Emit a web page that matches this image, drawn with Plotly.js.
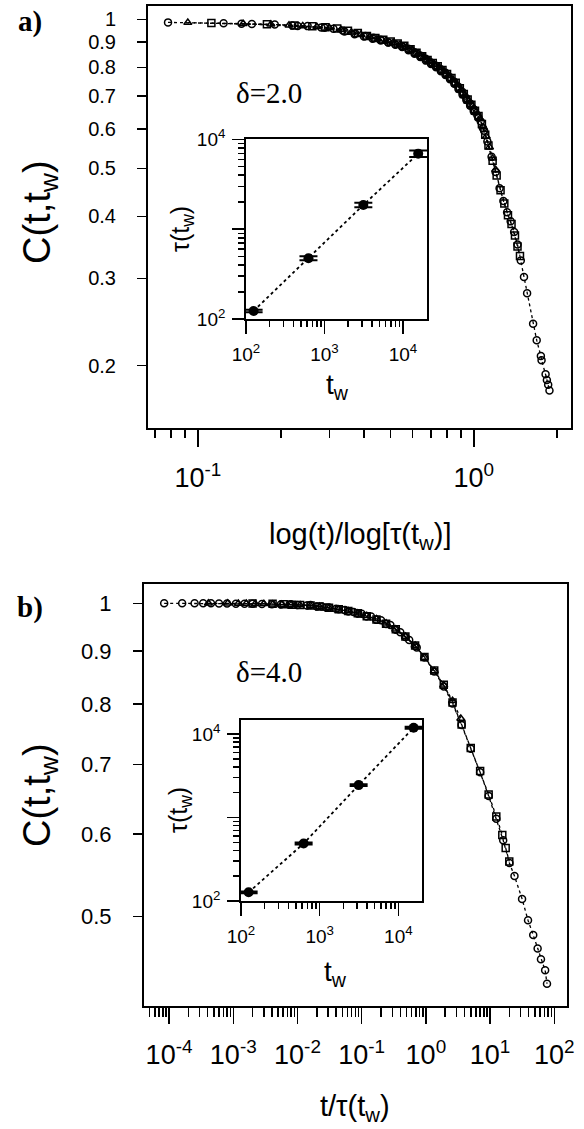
<!DOCTYPE html>
<html>
<head>
<meta charset="utf-8">
<script src="https://cdn.plot.ly/plotly-3.0.1.min.js"></script>
<style>
  html, body { margin: 0; padding: 0; background: #fff; }
  #chart { width: 584px; height: 1129px; }
</style>
</head>
<body>
<div id="chart"></div>
<script>
// ---------------- DATA ----------------
// Panel a) delta = 2.0 : C(t,tw) vs log(t)/log[tau(tw)]
const aX_tw15625 = [0.078,0.124,0.157,0.19,0.22,0.25,0.28,0.31,0.34,0.37,0.40,0.43,0.46,0.49,0.52,0.55,0.58,0.61,0.64,0.67,0.70,0.73,0.76,0.79,0.82,0.85,0.88,0.91,0.94,0.97,1.00,1.03,1.06,1.09];
const aC_tw15625 = [0.986,0.982,0.979,0.976,0.972,0.969,0.963,0.957,0.945,0.933,0.923,0.914,0.906,0.898,0.891,0.882,0.872,0.858,0.845,0.833,0.818,0.806,0.793,0.780,0.764,0.748,0.731,0.713,0.693,0.676,0.658,0.640,0.622,0.596];
const aX_tw3125 = [0.092,0.146,0.184,0.214,0.24,0.27,0.30,0.33,0.36,0.39,0.42,0.45,0.48,0.51,0.54,0.57,0.60,0.63,0.66,0.69,0.72,0.75,0.78,0.81,0.84,0.87,0.90,0.93,0.96,0.99,1.02,1.05,1.08,1.11,1.14,1.17,1.20];
const aC_tw3125 = [0.985,0.980,0.977,0.973,0.970,0.966,0.961,0.953,0.942,0.932,0.922,0.913,0.905,0.897,0.889,0.878,0.867,0.853,0.839,0.826,0.812,0.800,0.786,0.770,0.754,0.737,0.720,0.702,0.684,0.668,0.650,0.630,0.606,0.580,0.552,0.524,0.497];
const aX_tw625 = [0.112,0.178,0.224,0.26,0.29,0.32,0.35,0.38,0.41,0.44,0.47,0.50,0.53,0.56,0.59,0.62,0.65,0.68,0.71,0.74,0.77,0.80,0.83,0.86,0.89,0.92,0.95,0.98,1.01,1.04,1.07,1.10,1.13,1.17,1.21,1.25,1.29,1.33,1.37,1.41,1.44,1.47];
const aC_tw625 = [0.983,0.978,0.972,0.968,0.964,0.958,0.948,0.938,0.926,0.917,0.909,0.902,0.894,0.884,0.870,0.856,0.842,0.828,0.816,0.804,0.790,0.776,0.761,0.745,0.726,0.707,0.689,0.672,0.654,0.638,0.615,0.585,0.556,0.518,0.484,0.452,0.425,0.402,0.386,0.366,0.348,0.333];
const aX_tw125 = [0.144,0.23,0.288,0.335,0.372,0.405,0.433,0.46,0.49,0.52,0.55,0.58,0.61,0.64,0.67,0.70,0.73,0.76,0.79,0.82,0.85,0.88,0.91,0.94,0.97,1.00,1.04,1.08,1.12,1.16,1.20,1.24,1.28,1.32,1.36,1.40,1.44,1.48,1.52,1.56,1.64,1.69,1.75,1.76,1.82,1.84,1.86,1.88];
const aC_tw125 = [0.980,0.970,0.962,0.950,0.936,0.926,0.918,0.909,0.898,0.889,0.879,0.866,0.852,0.839,0.826,0.813,0.800,0.786,0.772,0.757,0.741,0.723,0.705,0.687,0.669,0.652,0.633,0.603,0.567,0.528,0.492,0.456,0.430,0.408,0.391,0.372,0.351,0.326,0.302,0.280,0.243,0.225,0.209,0.205,0.192,0.187,0.183,0.178];

// Panel b) delta = 4.0 : C(t,tw) vs t/tau(tw)
const bX_tw15625 = [8.4e-5,1.6e-4,2.5e-4,3.4e-4,4.5e-4,6e-4,8e-4,1.1e-3,1.5e-3,2e-3,2.8e-3,4e-3,5.5e-3,7.5e-3,0.01,0.014,0.02,0.028,0.04,0.055,0.075,0.1,0.14,0.2,0.28,0.4,0.55,0.72];
const bC_tw15625 = [1.0,1.0,1.0,1.0,1.0,0.9995,0.9995,0.999,0.999,0.999,0.9985,0.998,0.9975,0.997,0.996,0.995,0.993,0.991,0.988,0.985,0.981,0.977,0.971,0.963,0.953,0.938,0.922,0.907];
const bX_tw3125 = [4.1e-4,8.2e-4,1.2e-3,1.6e-3,2.2e-3,3e-3,4.1e-3,5.7e-3,8e-3,0.011,0.016,0.022,0.031,0.044,0.062,0.087,0.12,0.17,0.24,0.34,0.48,0.68,0.95,1.35,1.9,2.6,3.5];
const bC_tw3125 = [1.0,1.0,0.9995,0.9995,0.999,0.999,0.998,0.9975,0.997,0.996,0.995,0.993,0.990,0.987,0.983,0.978,0.973,0.966,0.957,0.944,0.929,0.911,0.887,0.861,0.834,0.806,0.775];
const bX_tw625 = [2.0e-3,4.1e-3,6.1e-3,8.2e-3,0.011,0.016,0.022,0.031,0.044,0.062,0.087,0.12,0.17,0.24,0.34,0.48,0.68,0.95,1.35,1.9,2.6,3.6,5.0,7.0,9.5,12.5,15.5,17.5,19.9];
const bC_tw625 = [0.9995,0.999,0.998,0.997,0.996,0.995,0.993,0.990,0.987,0.983,0.978,0.972,0.965,0.956,0.944,0.929,0.911,0.888,0.862,0.835,0.803,0.765,0.726,0.690,0.655,0.624,0.599,0.582,0.565];
const bX_tw125 = [7.9e-3,0.016,0.024,0.031,0.044,0.062,0.087,0.12,0.17,0.24,0.34,0.48,0.68,0.95,1.35,1.9,2.6,3.6,5.0,7.0,9.5,12.5,16,20,24,31.5,39,47,55,62,72,77];
const bC_tw125 = [0.998,0.996,0.993,0.991,0.987,0.982,0.977,0.971,0.964,0.955,0.943,0.928,0.910,0.887,0.860,0.832,0.801,0.764,0.725,0.688,0.653,0.621,0.592,0.563,0.547,0.520,0.496,0.480,0.466,0.455,0.444,0.431];

// Insets: relaxation time tau(tw) vs waiting time tw
const insetTw = [125, 625, 3125, 15625];
const insetTauA = [123, 476, 1862, 6950];
const insetTauErrA = [4, 25, 110, 560];
const insetTauB = [127, 488, 2440, 11860];
const insetTauErrB = [3, 12, 60, 300];

// Tick labels
const aMainXTicks = [0.1, 1];
const aMainXText = ['10<sup>-1</sup>', '10<sup>0</sup>'];
const aMainXMinor = [0.07,0.08,0.09,0.2,0.3,0.4,0.5,0.6,0.7,0.8,0.9,2];
const aMainYTicks = [0.2,0.3,0.4,0.5,0.6,0.7,0.8,0.9,1];
const aMainYText = ['0.2','0.3','0.4','0.5','0.6','0.7','0.8','0.9','1'];
const bMainXTicks = [1e-4,1e-3,1e-2,1e-1,1,10,100];
const bMainXText = ['10<sup>-4</sup>','10<sup>-3</sup>','10<sup>-2</sup>','10<sup>-1</sup>','10<sup>0</sup>','10<sup>1</sup>','10<sup>2</sup>'];
const bMainYTicks = [0.5,0.6,0.7,0.8,0.9,1];
const bMainYText = ['0.5','0.6','0.7','0.8','0.9','1'];
const insetXTicks = [100, 1000, 10000];
const insetXText = ['10<sup>2</sup>','10<sup>3</sup>','10<sup>4</sup>'];
const insetYText = ['10<sup>2</sup>','','10<sup>4</sup>'];

// minor tick values (decade subdivisions)
function decadeMinors(loExp, hiExp, maxVal, minVal) {
  const out = [];
  for (let e = loExp; e <= hiExp; e++) {
    for (let m = 2; m <= 9; m++) {
      const v = m * Math.pow(10, e);
      if (v >= minVal && v <= maxVal) out.push(v);
    }
  }
  return out;
}
const bMainXMinor = decadeMinors(-5, 1, 158, 4.1e-5);
const insetMinor = decadeMinors(2, 3, 20000, 100);

// ---------------- LAYOUT HELPERS ----------------
const W = 584, H = 1129;
const fx = px => px / W;
const fy = py => 1 - py / H;
const FONT = 'Liberation Sans, Arial, Helvetica, sans-serif';
const SERIF = 'Liberation Serif, Times New Roman, serif';

function axis(o) {
  return {
    type: 'log',
    domain: o.domain,
    range: o.range,
    anchor: o.anchor,
    showgrid: false,
    zeroline: false,
    showline: true,
    mirror: true,
    linecolor: 'black',
    linewidth: o.lw || 2,
    ticks: 'outside',
    ticklen: o.ticklen,
    tickwidth: 1.5,
    tickcolor: 'black',
    tickmode: 'array',
    tickvals: o.tickvals,
    ticktext: o.ticktext,
    tickangle: 0,
    ticklabelstandoff: o.standoff || 0,
    tickfont: { family: FONT, size: o.fontsize, color: 'black' },
    minor: o.minor ? {
      tickmode: 'array', tickvals: o.minor, ticks: 'outside',
      ticklen: o.minorlen, tickwidth: 1.5, tickcolor: 'black', showgrid: false
    } : undefined,
    fixedrange: true
  };
}

const dotLine = { dash: 'dot', width: 1.3, color: 'black' };
function series(x, y, symbol, xa, ya) {
  return {
    type: 'scatter', mode: 'lines+markers', x: x, y: y,
    xaxis: xa, yaxis: ya,
    line: dotLine,
    marker: { symbol: symbol, size: 7, color: 'black', line: { width: 1.5, color: 'black' } },
    hoverinfo: 'skip'
  };
}
function insetTrace(tau, err, xa, ya) {
  return {
    type: 'scatter', mode: 'lines+markers', x: insetTw, y: tau,
    xaxis: xa, yaxis: ya,
    line: { dash: 'dot', width: 1.8, color: 'black' },
    marker: { symbol: 'circle', size: 10, color: 'black' },
    error_y: { type: 'data', array: err, visible: true, color: 'black', thickness: 2, width: 9 },
    hoverinfo: 'skip'
  };
}

const traces = [
  series(aX_tw125, aC_tw125, 'circle-open', 'x', 'y'),
  series(aX_tw625, aC_tw625, 'square-open', 'x', 'y'),
  series(aX_tw3125, aC_tw3125, 'triangle-up-open', 'x', 'y'),
  series(aX_tw15625, aC_tw15625, 'circle-open', 'x', 'y'),
  insetTrace(insetTauA, insetTauErrA, 'x2', 'y2'),
  series(bX_tw125, bC_tw125, 'circle-open', 'x3', 'y3'),
  series(bX_tw625, bC_tw625, 'square-open', 'x3', 'y3'),
  series(bX_tw3125, bC_tw3125, 'triangle-up-open', 'x3', 'y3'),
  series(bX_tw15625, bC_tw15625, 'circle-open', 'x3', 'y3'),
  insetTrace(insetTauB, insetTauErrB, 'x4', 'y4')
];

function ann(text, px, py, size, opts) {
  return Object.assign({
    text: text, x: fx(px), y: fy(py), xref: 'paper', yref: 'paper',
    xanchor: 'center', yanchor: 'middle', showarrow: false,
    font: { family: FONT, size: size, color: 'black' }
  }, opts || {});
}

const layout = {
  width: W, height: H,
  margin: { l: 0, r: 0, t: 0, b: 0 },
  paper_bgcolor: 'white', plot_bgcolor: 'rgba(0,0,0,0)',
  showlegend: false,
  font: { family: FONT, color: 'black' },
  // panel a main
  xaxis: axis({ domain: [fx(148), fx(571)], range: [Math.log10(0.066), Math.log10(2.25)], anchor: 'y',
    tickvals: aMainXTicks, ticktext: aMainXText, ticklen: 17, minor: aMainXMinor, minorlen: 8, fontsize: 27, standoff: 8 }),
  yaxis: axis({ domain: [fy(428), fy(6)], range: [Math.log10(0.1496), Math.log10(1.064)], anchor: 'x',
    tickvals: aMainYTicks, ticktext: aMainYText, ticklen: 9, fontsize: 20, standoff: 17 }),
  // panel a inset
  xaxis2: axis({ domain: [fx(246), fx(427)], range: [2, 4.306], anchor: 'y2', lw: 1.8,
    tickvals: insetXTicks, ticktext: insetXText, ticklen: 13, minor: insetMinor, minorlen: 6, fontsize: 19, standoff: 4 }),
  yaxis2: axis({ domain: [fy(319), fy(139)], range: [2, 4.005], anchor: 'x2', lw: 1.8,
    tickvals: insetXTicks, ticktext: insetYText, ticklen: 12, minor: insetMinor, minorlen: 6, fontsize: 19, standoff: 3 }),
  // panel b main
  xaxis3: axis({ domain: [fx(144), fx(567)], range: [-4.39, 2.198], anchor: 'y3',
    tickvals: bMainXTicks, ticktext: bMainXText, ticklen: 16, minor: bMainXMinor, minorlen: 9, fontsize: 27, standoff: 8 }),
  yaxis3: axis({ domain: [fy(1006), fy(584)], range: [Math.log10(0.4103), Math.log10(1.0436)], anchor: 'x3',
    tickvals: bMainYTicks, ticktext: bMainYText, ticklen: 9, fontsize: 22, standoff: 17 }),
  // panel b inset
  xaxis4: axis({ domain: [fx(241), fx(422)], range: [2, 4.30], anchor: 'y4', lw: 1.8,
    tickvals: insetXTicks, ticktext: insetXText, ticklen: 13, minor: insetMinor, minorlen: 6, fontsize: 19, standoff: 4 }),
  yaxis4: axis({ domain: [fy(901), fy(720)], range: [2, 4.167], anchor: 'x4', lw: 1.8,
    tickvals: insetXTicks, ticktext: insetYText, ticklen: 12, minor: insetMinor, minorlen: 6, fontsize: 19, standoff: 3 }),
  annotations: [
    ann('<b>a)</b>', 30, 22, 29, { font: { family: SERIF, size: 29, color: 'black' } }),
    ann('<b>b)</b>', 30, 607, 29, { font: { family: SERIF, size: 29, color: 'black' } }),
    ann('\u03b4=2.0', 269, 93, 29, { font: { family: SERIF, size: 29, color: 'black' } }),
    ann('\u03b4=4.0', 269, 672, 29, { font: { family: SERIF, size: 29, color: 'black' } }),
    ann('C(t,t<sub>w</sub>)', 40, 212, 38, { textangle: -90 }),
    ann('log(t)/log[\u03c4(t<sub>w</sub>)]', 360, 536, 29),
    ann('\u03c4(t<sub>w</sub>)', 182, 229, 25, { textangle: -90 }),
    ann('t<sub>w</sub>', 337, 387, 28),
    ann('C(t,t<sub>w</sub>)', 40, 795, 38, { textangle: -90 }),
    ann('t/\u03c4(t<sub>w</sub>)', 355, 1108, 29),
    ann('\u03c4(t<sub>w</sub>)', 180, 810, 25, { textangle: -90 }),
    ann('t<sub>w</sub>', 335, 973, 28)
  ]
};

Plotly.newPlot('chart', traces, layout, { staticPlot: true, displayModeBar: false });
</script>
</body>
</html>
